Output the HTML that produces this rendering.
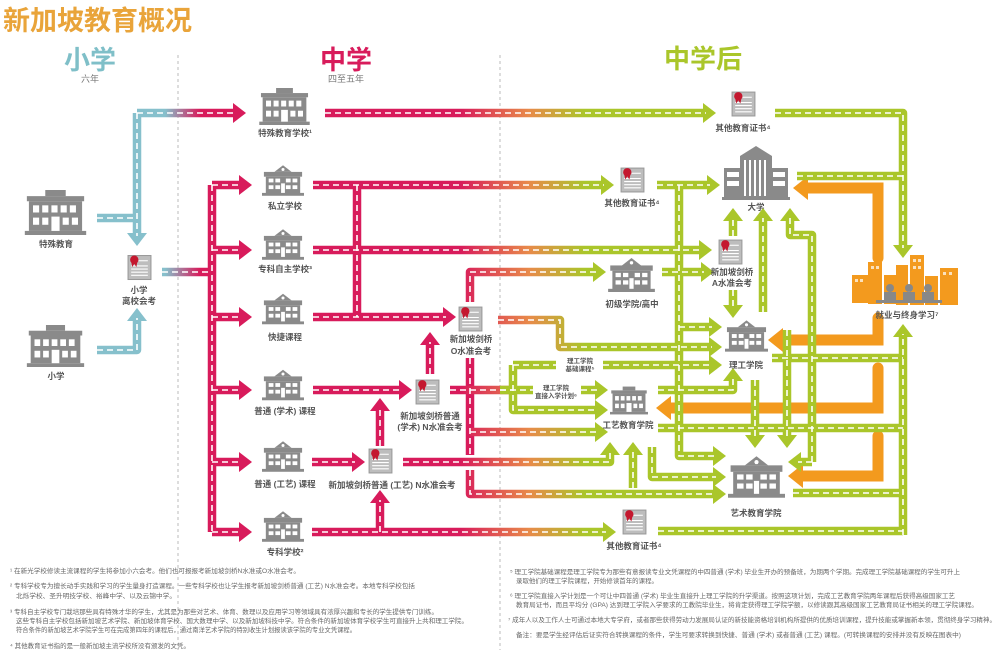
<!DOCTYPE html>
<html><head><meta charset="utf-8"><style>
html,body{margin:0;padding:0;background:#fff;}
svg{display:block;font-family:"Liberation Sans","Noto Sans CJK SC",sans-serif;}
.lb{font-size:8.5px;fill:#555;text-anchor:middle;font-weight:bold;}
.fn{font-size:6.3px;fill:#666;}
</style></head><body>
<svg width="1000" height="656" viewBox="0 0 1000 656" xmlns="http://www.w3.org/2000/svg">
<defs>
<linearGradient id="gML" gradientUnits="userSpaceOnUse" x1="460" y1="0" x2="585" y2="0"><stop offset="0" stop-color="#d81b5b"/><stop offset="0.55" stop-color="#e88a4a"/><stop offset="1" stop-color="#aac62a"/></linearGradient>
<linearGradient id="gBM" gradientUnits="userSpaceOnUse" x1="165" y1="0" x2="200" y2="0"><stop offset="0" stop-color="#86c0cc"/><stop offset="1" stop-color="#d81b5b"/></linearGradient>
<marker id="mM" markerUnits="userSpaceOnUse" markerWidth="14" markerHeight="20" refX="3" refY="10" orient="auto"><path d="M0,0 L13,10 L0,20z" fill="#d81b5b"/></marker>
<marker id="mL" markerUnits="userSpaceOnUse" markerWidth="14" markerHeight="20" refX="3" refY="10" orient="auto"><path d="M0,0 L13,10 L0,20z" fill="#aac62a"/></marker>
<marker id="mB" markerUnits="userSpaceOnUse" markerWidth="14" markerHeight="20" refX="3" refY="10" orient="auto"><path d="M0,0 L13,10 L0,20z" fill="#86c0cc"/></marker>
<marker id="mO" markerUnits="userSpaceOnUse" markerWidth="16" markerHeight="24" refX="3" refY="12" orient="auto"><path d="M0,0 L15,12 L0,24z" fill="#f39a1e"/></marker>
<symbol id="sch" viewBox="0 0 44 32"><path d="M22 0 L31 7 H13Z" fill="#8a8a8a"/><circle cx="22" cy="4.5" r="1.6" fill="#fff"/><rect x="2" y="7" width="40" height="5" fill="#8a8a8a"/><rect x="4" y="12" width="36" height="18" fill="#8a8a8a"/><rect x="0" y="29" width="44" height="3" fill="#8a8a8a"/><g fill="#fff"><rect x="7" y="14" width="5" height="4"/><rect x="14" y="14" width="5" height="4"/><rect x="25" y="14" width="5" height="4"/><rect x="32" y="14" width="5" height="4"/><rect x="7" y="21" width="5" height="4"/><rect x="14" y="21" width="5" height="4"/><rect x="25" y="21" width="5" height="4"/><rect x="32" y="21" width="5" height="4"/><rect x="20" y="19" width="4" height="10"/></g></symbol>
<symbol id="big" viewBox="0 0 60 44"><rect x="20" y="0" width="20" height="6" fill="#8a8a8a"/><rect x="2" y="6" width="56" height="5" fill="#8a8a8a"/><rect x="4" y="11" width="52" height="29" fill="#8a8a8a"/><rect x="0" y="40" width="60" height="4" fill="#8a8a8a"/><g fill="#fff"><rect x="8" y="15" width="6" height="7"/><rect x="17" y="15" width="6" height="7"/><rect x="26" y="15" width="6" height="7"/><rect x="35" y="15" width="6" height="7"/><rect x="44" y="15" width="6" height="7"/><rect x="8" y="27" width="6" height="7"/><rect x="17" y="27" width="6" height="7"/><rect x="37" y="27" width="6" height="7"/><rect x="46" y="27" width="6" height="7"/><rect x="26" y="26" width="8" height="14"/></g></symbol>
<symbol id="cert" viewBox="0 0 24 26"><rect x="1" y="2" width="22" height="23" fill="#bdbdbd" stroke="#999" stroke-width="1"/><g stroke="#fff" stroke-width="1"><line x1="4" y1="12" x2="20" y2="12"/><line x1="4" y1="15" x2="20" y2="15"/><line x1="4" y1="18" x2="20" y2="18"/><line x1="4" y1="21" x2="20" y2="21"/><line x1="11" y1="7" x2="20" y2="7"/></g><path d="M4 8 L5 13 L7 10 L9 13 L10 8z" fill="#c4182f"/><circle cx="7" cy="6" r="4" fill="#c4182f"/></symbol>
</defs>

<text x="3" y="30" font-size="27" fill="#e9a43a" font-weight="bold">新加坡教育概况</text>
<text x="90" y="69" font-size="26" fill="#7fbfc8" font-weight="bold" text-anchor="middle">小学</text>
<text x="90" y="82" font-size="9" fill="#777" text-anchor="middle">六年</text>
<text x="346" y="69" font-size="26" fill="#d81b5b" font-weight="bold" text-anchor="middle">中学</text>
<text x="346" y="82" font-size="9" fill="#777" text-anchor="middle">四至五年</text>
<text x="703" y="68" font-size="26" fill="#aac62a" font-weight="bold" text-anchor="middle">中学后</text>
<line x1="178" y1="55" x2="178" y2="650" stroke="#bbb" stroke-dasharray="3 3"/>
<line x1="500" y1="55" x2="500" y2="650" stroke="#bbb" stroke-dasharray="3 3"/>

<g fill="none" stroke="#f39a1e" stroke-width="11" stroke-linecap="round">
<path d="M878,258 V188 H805" marker-end="url(#mO)"/>
<path d="M878,318 V340 H780" marker-end="url(#mO)"/>
<path d="M878,368 V408 H668" marker-end="url(#mO)"/>
<path d="M878,436 V476 H800" marker-end="url(#mO)"/>
</g>

<defs>
<path id="b1" d="M137,113 V236"/>
<path id="b2" d="M97,218 H137"/>
<path id="b3" d="M97,350 H137 V318"/>
<path id="bm1" d="M137,113 H236"/>
<path id="bm2" d="M162,272 H212"/>
<path id="m0" d="M212,185 V532"/>
<path id="m1" d="M212,185 H242"/><path id="m2" d="M212,250 H242"/><path id="m3" d="M212,317 H242"/><path id="m4" d="M212,390 H242"/><path id="m5" d="M212,462 H242"/><path id="m6" d="M212,532 H242"/>
<path id="m7" d="M357,185 V317"/>
<path id="m8" d="M313,317 H446"/>
<path id="m9" d="M313,390 H402"/>
<path id="m10" d="M430,374 V342"/>
<path id="m11" d="M312,462 H355"/>
<path id="m12" d="M380,446 V408"/>
<path id="m13" d="M380,532 V500"/>
<path id="m14" d="M470,358 V455"/>
<path id="g1" d="M325,113 H706"/>
<path id="g2" d="M313,185 H604"/>
<path id="g3" d="M313,250 H702"/>
<path id="g4" d="M470,302 V272 H596"/>
<path id="g5" d="M312,532 H606"/>
<path id="g6" d="M470,432 H598"/>
<path id="g7" d="M470,470 V494 H716"/>
<path id="g8" d="M403,462 H610 V452"/>
<path id="g9" d="M450,390 H513"/>
<path id="g10" d="M498,320 H560 V347 H712"/>
<path id="l1" d="M775,113 H903 V248"/>
<path id="l2" d="M797,176 H903"/>
<path id="l3" d="M903,535 V334"/>
<path id="l4" d="M772,358 H903"/><path id="l5" d="M658,428 H903"/><path id="l6" d="M793,493 H903"/><path id="l7" d="M658,531 H903"/>
<path id="l8" d="M657,185 H710"/>
<path id="l9" d="M679,185 V456 H716"/>
<path id="l10" d="M662,272 H704"/>
<path id="l11" d="M679,327 H712"/>
<path id="l12" d="M513,365 V410 H598"/>
<path id="l13" d="M513,365 H556"/><path id="l14" d="M603,365 H712"/>
<path id="l15" d="M500,390 H533"/><path id="l16" d="M581,390 H598"/>
<path id="l17" d="M658,390 H733 V378"/>
<path id="l18" d="M733,236 V218"/>
<path id="l19" d="M763,312 V218"/>
<path id="l20" d="M812,462 V235 H790 V218"/>
<path id="l21" d="M812,462 H798"/>
<path id="l22" d="M787,330 V438"/>
<path id="l23" d="M755,380 V438"/>
<path id="l24" d="M733,290 V308"/>
<path id="l25" d="M652,447 V477 H716"/>
<path id="l26" d="M633,488 V452"/>
</defs>
<g fill="none" stroke-width="8.5" stroke-linejoin="round">
<g stroke="#86c0cc"><use href="#b1" marker-end="url(#mB)"/><use href="#b2"/><use href="#b3" marker-end="url(#mB)"/></g>
<g stroke="url(#gBM)"><use href="#bm1" marker-end="url(#mM)"/><use href="#bm2"/></g>
<g stroke="#d81b5b"><use href="#m0"/><use href="#m1" marker-end="url(#mM)"/><use href="#m2" marker-end="url(#mM)"/><use href="#m3" marker-end="url(#mM)"/><use href="#m4" marker-end="url(#mM)"/><use href="#m5" marker-end="url(#mM)"/><use href="#m6" marker-end="url(#mM)"/><use href="#m7"/><use href="#m8" marker-end="url(#mM)"/><use href="#m9" marker-end="url(#mM)"/><use href="#m10" marker-end="url(#mM)"/><use href="#m11" marker-end="url(#mM)"/><use href="#m12" marker-end="url(#mM)"/><use href="#m13" marker-end="url(#mM)"/><use href="#m14"/></g>
<g stroke="url(#gML)"><use href="#g1" marker-end="url(#mL)"/><use href="#g2" marker-end="url(#mL)"/><use href="#g3" marker-end="url(#mL)"/><use href="#g4" marker-end="url(#mL)"/><use href="#g5" marker-end="url(#mL)"/><use href="#g6" marker-end="url(#mL)"/><use href="#g7" marker-end="url(#mL)"/><use href="#g8" marker-end="url(#mL)"/><use href="#g9"/><use href="#g10" marker-end="url(#mL)"/></g>
<g stroke="#aac62a"><use href="#l1" marker-end="url(#mL)"/><use href="#l2"/><use href="#l3" marker-end="url(#mL)"/><use href="#l4"/><use href="#l5"/><use href="#l6"/><use href="#l7"/><use href="#l8" marker-end="url(#mL)"/><use href="#l9" marker-end="url(#mL)"/><use href="#l10" marker-end="url(#mL)"/><use href="#l11" marker-end="url(#mL)"/><use href="#l12" marker-end="url(#mL)"/><use href="#l13"/><use href="#l14" marker-end="url(#mL)"/><use href="#l15"/><use href="#l16" marker-end="url(#mL)"/><use href="#l17" marker-end="url(#mL)"/><use href="#l18" marker-end="url(#mL)"/><use href="#l19" marker-end="url(#mL)"/><use href="#l20" marker-end="url(#mL)"/><use href="#l21" marker-end="url(#mL)"/><use href="#l22" marker-end="url(#mL)"/><use href="#l23" marker-end="url(#mL)"/><use href="#l24" marker-end="url(#mL)"/><use href="#l25" marker-end="url(#mL)"/><use href="#l26" marker-end="url(#mL)"/></g>
</g>
<g fill="none" stroke="#fff" stroke-width="1.6" stroke-dasharray="6 4">
<use href="#b1"/><use href="#b2"/><use href="#b3"/><use href="#bm1"/><use href="#bm2"/>
<use href="#m0"/><use href="#m1"/><use href="#m2"/><use href="#m3"/><use href="#m4"/><use href="#m5"/><use href="#m6"/><use href="#m7"/><use href="#m8"/><use href="#m9"/><use href="#m10"/><use href="#m11"/><use href="#m12"/><use href="#m13"/><use href="#m14"/>
<use href="#g1"/><use href="#g2"/><use href="#g3"/><use href="#g4"/><use href="#g5"/><use href="#g6"/><use href="#g7"/><use href="#g8"/><use href="#g9"/><use href="#g10"/>
<use href="#l1"/><use href="#l2"/><use href="#l3"/><use href="#l4"/><use href="#l5"/><use href="#l6"/><use href="#l7"/><use href="#l8"/><use href="#l9"/><use href="#l10"/><use href="#l11"/><use href="#l12"/><use href="#l13"/><use href="#l14"/><use href="#l15"/><use href="#l16"/><use href="#l17"/><use href="#l18"/><use href="#l19"/><use href="#l20"/><use href="#l21"/><use href="#l22"/><use href="#l23"/><use href="#l24"/><use href="#l25"/><use href="#l26"/>
</g>

<use href="#big" x="23" y="190" width="65" height="45"/>
<use href="#big" x="23" y="325" width="65" height="42"/>
<use href="#big" x="256" y="88" width="57" height="37"/>
<use href="#sch" x="262" y="165" width="42" height="31"/>
<use href="#sch" x="262" y="229" width="42" height="31"/>
<use href="#sch" x="262" y="293" width="42" height="32"/>
<use href="#sch" x="262" y="368" width="42" height="34"/>
<use href="#sch" x="262" y="440" width="42" height="33"/>
<use href="#sch" x="262" y="510" width="42" height="33"/>
<use href="#sch" x="608" y="258" width="47" height="34"/>
<use href="#sch" x="725" y="318" width="43" height="36"/>
<use href="#big" x="610" y="383" width="38" height="35"/>
<use href="#sch" x="728" y="452" width="57" height="50"/>
<g fill="#8a8a8a"><path d="M740 156 L756 146 L772 156z"/><rect x="740" y="156" width="32" height="42"/><rect x="724" y="168" width="20" height="30"/><rect x="768" y="168" width="20" height="30"/><rect x="722" y="197" width="68" height="3"/></g>
<g fill="#fff"><rect x="744" y="160" width="2" height="36"/><rect x="749" y="160" width="2" height="36"/><rect x="754" y="160" width="2" height="36"/><rect x="759" y="160" width="2" height="36"/><rect x="764" y="160" width="2" height="36"/><rect x="727" y="172" width="12" height="5"/><rect x="727" y="181" width="12" height="5"/><rect x="773" y="172" width="12" height="5"/><rect x="773" y="181" width="12" height="5"/></g>
<g fill="#f39a1e"><rect x="852" y="275" width="18" height="28"/><rect x="868" y="262" width="14" height="42"/><rect x="884" y="275" width="16" height="29"/><rect x="896" y="265" width="12" height="40"/><rect x="910" y="255" width="14" height="50"/><rect x="925" y="276" width="13" height="29"/><rect x="940" y="268" width="18" height="37"/></g>
<g fill="#fff" opacity="0.7"><rect x="871" y="266" width="3" height="3"/><rect x="876" y="266" width="3" height="3"/><rect x="913" y="259" width="3" height="3"/><rect x="918" y="259" width="3" height="3"/><rect x="913" y="266" width="3" height="3"/><rect x="918" y="266" width="3" height="3"/><rect x="943" y="272" width="3" height="3"/><rect x="949" y="272" width="3" height="3"/><rect x="855" y="279" width="3" height="3"/><rect x="860" y="279" width="3" height="3"/></g>
<g fill="#888"><circle cx="890" cy="288" r="4"/><circle cx="909" cy="288" r="4"/><circle cx="928" cy="288" r="4"/><rect x="884" y="292" width="12" height="10"/><rect x="903" y="292" width="12" height="10"/><rect x="922" y="292" width="12" height="10"/><rect x="876" y="300" width="66" height="3"/></g>
<use href="#cert" x="127" y="253" width="25" height="28"/>
<use href="#cert" x="731" y="90" width="25" height="27"/>
<use href="#cert" x="620" y="166" width="25" height="27"/>
<use href="#cert" x="718" y="238" width="25" height="27"/>
<use href="#cert" x="458" y="305" width="25" height="27"/>
<use href="#cert" x="415" y="378" width="25" height="27"/>
<use href="#cert" x="368" y="447" width="25" height="27"/>
<use href="#cert" x="622" y="508" width="25" height="27"/>

<text class="lb" x="56" y="247">特殊教育</text>
<text class="lb" x="56" y="379">小学</text>
<text class="lb" x="139" y="293">小学</text><text class="lb" x="139" y="304">离校会考</text>
<text class="lb" x="285" y="136">特殊教育学校¹</text>
<text class="lb" x="285" y="209">私立学校</text>
<text class="lb" x="285" y="272">专科自主学校³</text>
<text class="lb" x="285" y="340">快捷课程</text>
<text class="lb" x="285" y="414">普通 (学术) 课程</text>
<text class="lb" x="285" y="487">普通 (工艺) 课程</text>
<text class="lb" x="285" y="555">专科学校²</text>
<text class="lb" x="471" y="342">新加坡剑桥</text><text class="lb" x="471" y="354">O水准会考</text>
<text class="lb" x="430" y="419">新加坡剑桥普通</text><text class="lb" x="430" y="430">(学术) N水准会考</text>
<text class="lb" x="392" y="488">新加坡剑桥普通 (工艺) N水准会考</text>
<text class="lb" x="743" y="131">其他教育证书⁴</text>
<text class="lb" x="632" y="206">其他教育证书⁴</text>
<text class="lb" x="634" y="549">其他教育证书⁴</text>
<text class="lb" x="756" y="210">大学</text>
<text class="lb" x="732" y="275">新加坡剑桥</text><text class="lb" x="732" y="286">A水准会考</text>
<text class="lb" x="632" y="307">初级学院/高中</text>
<text class="lb" x="746" y="368">理工学院</text>
<text class="lb" x="628" y="428">工艺教育学院</text>
<text class="lb" x="756" y="516">艺术教育学院</text>
<text class="lb" x="907" y="318">就业与终身学习⁷</text>
<text class="lb" x="580" y="363" style="font-size:6.5px">理工学院</text><text class="lb" x="580" y="371" style="font-size:6.5px">基础课程⁵</text>
<text class="lb" x="556" y="390" style="font-size:6.5px">理工学院</text><text class="lb" x="556" y="398" style="font-size:6.5px">直接入学计划⁶</text>

<text class="fn" x="10" y="573" textLength="290" lengthAdjust="spacingAndGlyphs">¹ 在新光学校修读主流课程的学生将参加小六会考。他们也可报报考新加坡剑桥N水准或O水准会考。</text>
<text class="fn" x="10" y="588" textLength="405" lengthAdjust="spacingAndGlyphs">² 专科学校专为擅长动手实践和学习的学生量身打造课程。一些专科学校也让学生报考新加坡剑桥普通 (工艺) N水准会考。本地专科学校包括</text>
<text class="fn" x="16" y="598" textLength="160" lengthAdjust="spacingAndGlyphs">北烁学校、圣升明技学校、裕峰中学、以及云锦中学。</text>
<text class="fn" x="10" y="614" textLength="428" lengthAdjust="spacingAndGlyphs">³ 专科自主学校专门栽培那些具有特殊才华的学生，尤其是为那些对艺术、体育、数理以及应用学习等领域具有浓厚兴趣和专长的学生提供专门训练。</text>
<text class="fn" x="16" y="623" textLength="452" lengthAdjust="spacingAndGlyphs">这些专科自主学校包括新加坡艺术学院、新加坡体育学校、国大数理中学、以及新加坡科技中学。符合条件的新加坡体育学校学生可直接升上共和理工学院。</text>
<text class="fn" x="16" y="632" textLength="340" lengthAdjust="spacingAndGlyphs">符合条件的新加坡艺术学院学生可在完成第四年的课程后，通过南洋艺术学院的特别收生计划报读该学院的专业文凭课程。</text>
<text class="fn" x="10" y="648" textLength="180" lengthAdjust="spacingAndGlyphs">⁴ 其他教育证书指的是一般新加坡主流学校所没有颁发的文凭。</text>
<text class="fn" x="510" y="574" textLength="450" lengthAdjust="spacingAndGlyphs">⁵ 理工学院基础课程是理工学院专为那些有意报读专业文凭课程的中四普通 (学术) 毕业生开办的预备班，为期两个学期。完成理工学院基础课程的学生可升上</text>
<text class="fn" x="516" y="583" textLength="142" lengthAdjust="spacingAndGlyphs">录取他们的理工学院课程，开始修读首年的课程。</text>
<text class="fn" x="510" y="598" textLength="445" lengthAdjust="spacingAndGlyphs">⁶ 理工学院直接入学计划是一个可让中四普通 (学术) 毕业生直接升上理工学院的升学渠道。按照这项计划，完成工艺教育学院两年课程后获得高级国家工艺</text>
<text class="fn" x="516" y="607" textLength="462" lengthAdjust="spacingAndGlyphs">教育局证书，而且平均分 (GPA) 达到理工学院入学要求的工教院毕业生，将肯定获得理工学院学额，以修读跟其高级国家工艺教育局证书相关的理工学院课程。</text>
<text class="fn" x="508" y="622" textLength="488" lengthAdjust="spacingAndGlyphs">⁷ 成年人以及工作人士可通过本地大专学府，或者那些获得劳动力发展局认证的新技能资格培训机构所提供的优质培训课程，提升技能或掌握新本领，贯彻终身学习精神。</text>
<text class="fn" x="516" y="637" textLength="445" lengthAdjust="spacingAndGlyphs">备注：要是学生经评估后证实符合转换课程的条件，学生可要求转换到快捷、普通 (学术) 或者普通 (工艺) 课程。(可转换课程的安排并没有反映在图表中)</text>
</svg>
</body></html>
